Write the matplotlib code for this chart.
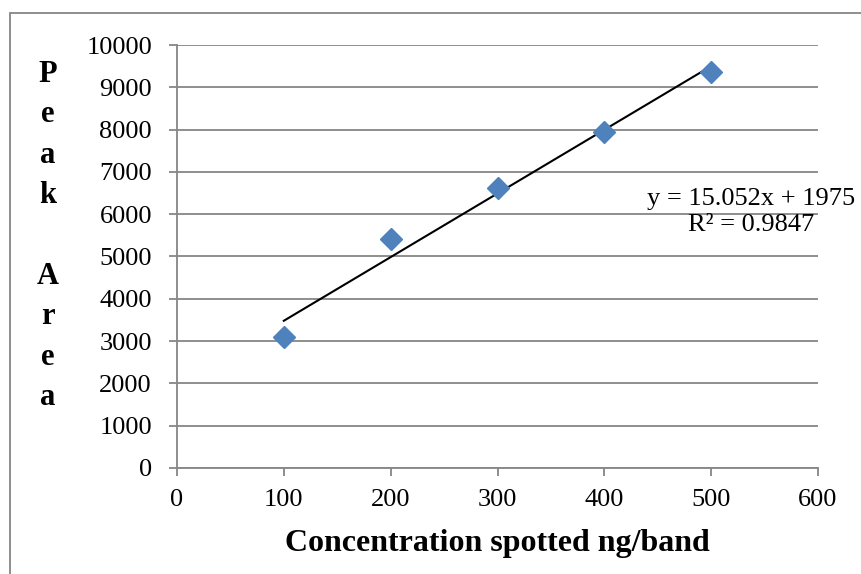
import matplotlib
matplotlib.use("Agg")
import matplotlib.pyplot as plt
from matplotlib.patches import Rectangle
import numpy as np

# calibration data: concentration spotted vs measured peak area
concentration = [100, 200, 300, 400, 500]
peak_area = [3100, 5420, 6620, 7940, 9365]

# linear trendline as reported
slope = 15.052
intercept = 1975
r_squared = 0.9847

x_ticks = [0, 100, 200, 300, 400, 500, 600]
y_ticks = [0, 1000, 2000, 3000, 4000, 5000, 6000, 7000, 8000, 9000, 10000]

plt.rcParams["font.family"] = ["Liberation Serif", "DejaVu Serif"]
grid_color = "#868686"

fig = plt.figure(figsize=(8.62, 5.74), dpi=100)
ax = fig.add_axes([0.2053, 0.1847, 0.9490 - 0.2053, 0.9216 - 0.1847])

# chart frame (left and top edges visible)
fig.patches.append(Rectangle((10 / 862, -0.1), 1.2, 0.1 + 1 - 13 / 574,
                             transform=fig.transFigure, fill=False,
                             edgecolor=grid_color, linewidth=1.3))

ax.set_xlim(0, 600)
ax.set_ylim(0, 10000)
ax.set_xticks(x_ticks)
ax.set_yticks(y_ticks)
ax.yaxis.grid(True, color=grid_color, linewidth=1.3)
ax.set_axisbelow(True)
for side in ("top", "right"):
    ax.spines[side].set_visible(False)
for side in ("left", "bottom"):
    ax.spines[side].set_color(grid_color)
    ax.spines[side].set_linewidth(1.3)
ax.tick_params(axis="both", direction="out", length=6, width=1.3,
               color=grid_color, labelsize=19)
ax.tick_params(axis="x", pad=9)
ax.tick_params(axis="y", pad=12)

fit_x = np.array([concentration[0], concentration[-1]])
ax.plot(fit_x, slope * fit_x + intercept, color="black", linewidth=1.5, zorder=3)
ax.plot(concentration, peak_area, linestyle="none", marker="D",
        markersize=11, color="#4F81BD", zorder=4)

ax.set_xlabel("Concentration spotted ng/band", fontsize=23, fontweight="bold",
              labelpad=13)

fig.text(48 / 862, 1 - 236 / 574, "P\ne\na\nk\n\nA\nr\ne\na", fontsize=22,
         fontweight="bold", ha="center", va="center", linespacing=1.52)

ax.text(751 / 862, 1 - 212 / 574,
        f"y = {slope}x + {intercept}\nR\u00b2 = {r_squared}",
        transform=fig.transFigure, fontsize=19, ha="center", va="center",
        multialignment="center", linespacing=1.25)

fig.savefig("out.png", dpi=100)
